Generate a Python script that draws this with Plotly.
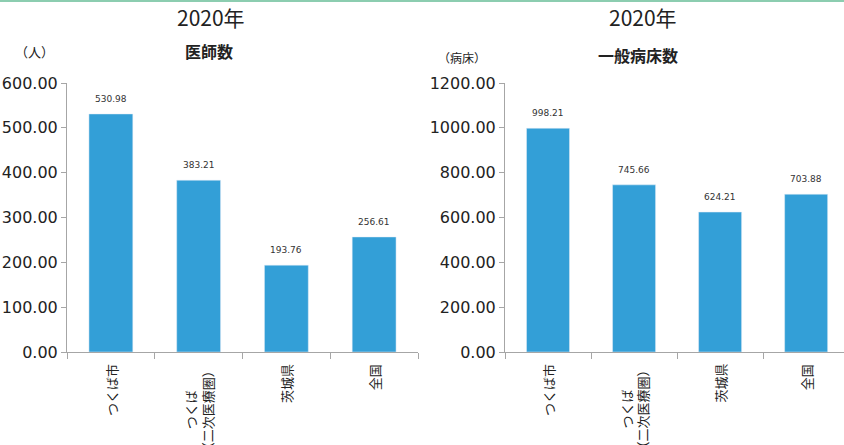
import plotly.graph_objects as go

categories = ["つくば市", "つくば二次医療圏", "茨城県", "全国"]
category_labels = ["つくば市", "つくば<br>（二次医療圏）", "茨城県", "全国"]
doctors = [530.98, 383.21, 193.76, 256.61]
beds = [998.21, 745.66, 624.21, 703.88]

BAR = "#339fd7"
AXIS = "#a6a6a6"
NUM_FONT = "DejaVu Sans"
JP_FONT = "Noto Sans CJK JP"

fig = go.Figure()
fig.add_trace(go.Bar(x=categories, y=doctors, marker_color=BAR, width=0.5,
                     xaxis="x", yaxis="y", showlegend=False, hoverinfo="skip"))
fig.add_trace(go.Bar(x=categories, y=beds, marker_color=BAR, width=0.5,
                     xaxis="x2", yaxis="y2", showlegend=False, hoverinfo="skip"))

ydom = [1 - 352 / 445, 1 - 83 / 445]
common_x = dict(type="category", showticklabels=False, tickson="boundaries",
                ticks="outside", ticklen=6, tickcolor=AXIS, showline=True,
                linecolor=AXIS, linewidth=1, showgrid=False, zeroline=False,
                fixedrange=True, automargin=False)
common_y = dict(showline=True, linecolor=AXIS, linewidth=1, ticks="outside",
                ticklen=5, tickcolor=AXIS, showgrid=False, zeroline=False,
                tickformat=".2f", tickfont=dict(family=NUM_FONT, size=16, color="#222222"),
                domain=ydom, automargin=False, fixedrange=True)

fig.update_layout(
    width=844, height=445,
    margin=dict(l=0, r=0, t=0, b=0, autoexpand=False),
    paper_bgcolor="white", plot_bgcolor="white",
    bargap=0.5,
    xaxis=dict(domain=[67 / 844, 418 / 844], range=[-0.5, 3.5], anchor="y", **common_x),
    yaxis=dict(range=[0, 600], dtick=100, anchor="x", **common_y),
    xaxis2=dict(domain=[505 / 844, 1.0], range=[-0.5, 3.44], anchor="y2", **common_x),
    yaxis2=dict(range=[0, 1200], dtick=200, anchor="x2", **common_y),
)

anns = []
for xa, ya, vals in (("x", "y", doctors), ("x2", "y2", beds)):
    # value labels
    for c, v in zip(categories, vals):
        anns.append(dict(x=c, y=v, xref=xa, yref=ya, text=f"{v:.2f}", showarrow=False,
                         xanchor="center", yanchor="middle", yshift=15,
                         font=dict(family=NUM_FONT, size=9, color="#333333")))
    # vertical category labels
    for c, lab in zip(categories, category_labels):
        anns.append(dict(x=c, y=1 - 362 / 445, xref=xa, yref="paper", text=lab,
                         showarrow=False, textangle=-90, yanchor="top", xanchor="center",
                         align="center",
                         font=dict(family=JP_FONT, size=13, color="#222222")))


def label(x, y, text, size):
    return dict(x=x / 844, y=1 - y / 445, xref="paper", yref="paper", text=text,
                showarrow=False, xanchor="center", yanchor="middle",
                font=dict(family=JP_FONT, size=size, color="#222222"))


anns += [
    label(210.5, 17, "2020年", 21),
    label(643, 17, "2020年", 21),
    label(208.5, 51, "<b>医師数</b>", 16),
    label(637.5, 55, "<b>一般病床数</b>", 16),
    label(34, 51, "（人）", 13),
    label(462, 57, "（病床）", 12),
]
fig.update_layout(annotations=anns)

fig.add_shape(type="line", xref="paper", yref="paper", x0=0, x1=1, y0=1 - 1 / 445, y1=1 - 1 / 445,
              line=dict(color="#8ccdb0", width=2))

fig.write_html("out.html", config={"displayModeBar": False, "staticPlot": True},
               post_script="document.body.style.margin='0';")
